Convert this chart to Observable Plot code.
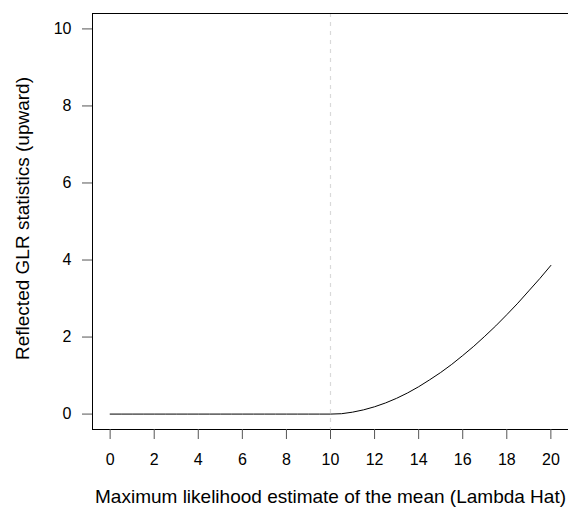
<!DOCTYPE html>
<html>
<head>
<meta charset="utf-8">
<script src="https://cdn.jsdelivr.net/npm/d3@7"></script>
<script src="https://cdn.jsdelivr.net/npm/@observablehq/plot@0.6"></script>
<style>
  html, body { margin: 0; padding: 0; background: #fff; }
  #chart svg { display: block; }
</style>
</head>
<body>
<div id="chart"></div>
<script>
// Maximum likelihood estimate of the mean (lambda hat)
const lambdaHat = [
  0, 0.5, 1, 1.5, 2, 2.5, 3, 3.5, 4, 4.5, 5, 5.5, 6, 6.5, 7, 7.5, 8, 8.5, 9, 9.5,
  10, 10.5, 11, 11.5, 12, 12.5, 13, 13.5, 14, 14.5, 15, 15.5, 16, 16.5, 17, 17.5,
  18, 18.5, 19, 19.5, 20
];
// Reflected (upward) GLR statistic at each lambda hat
const glrUpward = [
  0, 0, 0, 0, 0, 0, 0, 0, 0, 0, 0, 0, 0, 0, 0, 0, 0, 0, 0, 0,
  0, 0.01, 0.05, 0.11, 0.19, 0.29, 0.41, 0.55, 0.71, 0.89, 1.08, 1.29, 1.52, 1.76, 2.02, 2.29,
  2.58, 2.88, 3.20, 3.52, 3.86
];
const xTicks = [0, 2, 4, 6, 8, 10, 12, 14, 16, 18, 20];
const yTicks = [0, 2, 4, 6, 8, 10];
const referenceLambda = 10;
const xLabel = "Maximum likelihood estimate of the mean (Lambda Hat)";
const yLabel = "Reflected GLR statistics (upward)";

const rows = lambdaHat.map((x, i) => ({x, y: glrUpward[i]}));

const chart = Plot.plot({
  width: 568,
  height: 511,
  marginLeft: 92,
  marginRight: 0,
  marginTop: 13,
  marginBottom: 82,
  style: {fontFamily: "'Liberation Sans', Arial, Helvetica, sans-serif", fontSize: "16px", color: "#000", background: "#fff"},
  x: {domain: [-0.8, 20.8]},
  y: {domain: [-0.4, 10.4]},
  marks: [
    // reference mean
    Plot.ruleX([referenceLambda], {stroke: "#d9d9d9", strokeDasharray: "4,5", strokeWidth: 1.2}),
    Plot.line(rows, {x: "x", y: "y", stroke: "#000", strokeWidth: 1}),
    // box: bottom, top, left
    Plot.ruleY([-0.4], {stroke: "#000"}),
    Plot.ruleY([10.4], {stroke: "#000"}),
    Plot.ruleX([-0.8], {stroke: "#000"}),
    Plot.axisX({
      ticks: xTicks, tickSize: 10, tickPadding: 14, stroke: "#555",
      label: null, fontSize: 16
    }),
    Plot.axisY({
      ticks: yTicks, tickSize: 10, tickPadding: 11, stroke: "#555",
      label: null, fontSize: 16
    }),
    Plot.text([xLabel], {frameAnchor: "bottom", dy: 73, fontSize: 19, fill: "#000"}),
    Plot.text([yLabel], {frameAnchor: "left", textAnchor: "middle", lineAnchor: "middle", rotate: -90, dx: -70, dy: -3, fontSize: 19, fill: "#000"})
  ]
});
document.getElementById("chart").appendChild(chart);
</script>
</body>
</html>
